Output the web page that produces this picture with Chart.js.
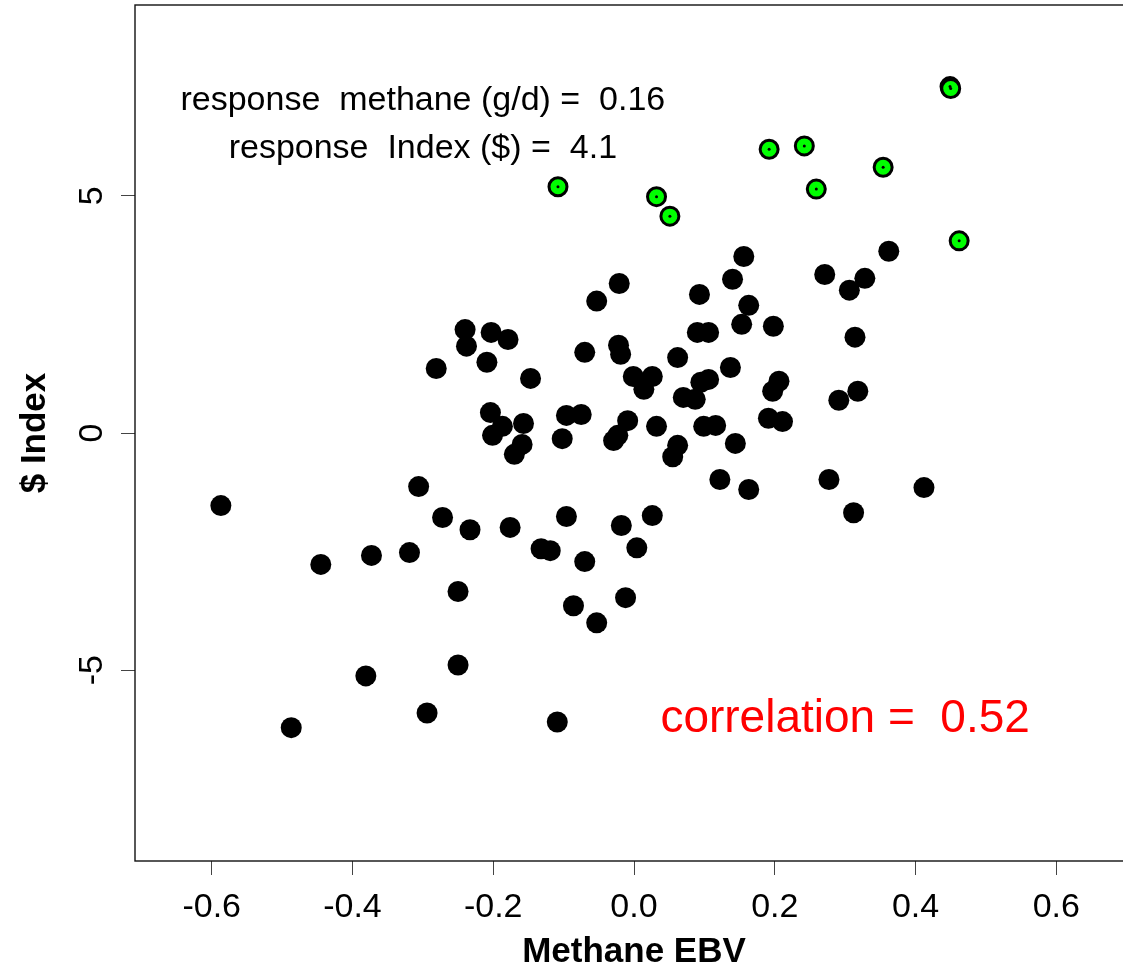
<!DOCTYPE html>
<html>
<head>
<meta charset="utf-8">
<script src="https://cdn.jsdelivr.net/npm/chart.js@4.4.1/dist/chart.umd.min.js"></script>
<style>
  html, body { margin: 0; padding: 0; background: #fff; overflow: hidden; }
  /* the plot box runs a little past the right edge of the picture, and Chart.js
     keeps ~12px free round the points, so the canvas is a bit bigger and pulled up */
  #wrap { width: 1145px; height: 980px; margin-top: -7px; }
</style>
</head>
<body>
<div id="wrap"><canvas id="scatter" width="1145" height="980"></canvas></div>
<script>
// Methane EBV vs $ Index, bulls
const methaneEBV = [
  -0.587, -0.487, -0.445, -0.381, -0.373, -0.319, -0.306, -0.294, -0.281, -0.272,
  -0.250, -0.250, -0.240, -0.238, -0.233, -0.209, -0.203, -0.204, -0.201, -0.187,
  -0.179, -0.176, -0.170, -0.159, -0.157, -0.147, -0.132, -0.119, -0.109, -0.102,
  -0.096, -0.096, -0.086, -0.075, -0.070, -0.070, -0.053, -0.053, -0.029, -0.023,
  -0.022, -0.021, -0.019, -0.018, -0.012, -0.009, -0.001, 0.004, 0.014, 0.026,
  0.026, 0.032, 0.055, 0.062, 0.062, 0.070, 0.087, 0.090, 0.093, 0.095,
  0.099, 0.106, 0.106, 0.116, 0.122, 0.137, 0.140, 0.144, 0.153, 0.156,
  0.163, 0.163, 0.191, 0.197, 0.198, 0.206, 0.211, 0.271, 0.277, 0.291,
  0.306, 0.312, 0.314, 0.318, 0.328, 0.362, 0.412
];
const indexValue = [
  -1.53, -6.21, -2.77, -5.12, -2.58, -2.52, -1.13, -5.90, 1.36, -1.78,
  -3.34, -4.89, 2.18, 1.83, -2.04, 1.49, 2.12, 0.43, -0.05, 0.14,
  1.97, -1.99, -0.45, -0.24, 0.20, 1.15, -2.44, -2.48, -6.09, -0.12,
  0.37, -1.76, -3.64, 0.39, 1.70, -2.71, 2.78, -4.00, -0.16, -0.05,
  1.85, 3.15, 1.66, -1.95, -3.47, 0.26, 1.19, -2.42, 0.92, 1.19,
  -1.74, 0.14, -0.50, -0.26, 1.59, 0.75, 0.71, 2.12, 2.92, 1.07,
  0.14, 2.12, 1.13, 0.16, -0.98, 1.38, 3.24, -0.22, 2.29, 3.72,
  2.69, -1.19, 0.31, 0.88, 2.25, 1.09, 0.24, 3.34, -0.98, 0.69,
  3.01, -1.68, 2.02, 0.88, 3.26, 3.83, -1.15
];
// top bulls on the index (green)
const topMethane = [-0.108, 0.032, 0.051, 0.192, 0.242, 0.259, 0.354, 0.449, 0.450, 0.462];
const topIndex = [5.19, 4.98, 4.57, 5.98, 6.05, 5.14, 5.60, 7.30, 7.26, 4.05];

const xTicks = [-0.6, -0.4, -0.2, 0, 0.2, 0.4, 0.6];
const xTickLabels = ['-0.6', '-0.4', '-0.2', '0.0', '0.2', '0.4', '0.6'];
const yTicks = [-5, 0, 5];
const yTickLabels = ['-5', '0', '5'];

const notes = ['response  methane (g/d) =  0.16', 'response  Index ($) =  4.1'];
const corrNote = 'correlation =  0.52';

const FONT = '"Liberation Sans", Arial, sans-serif';

const toPoints = (xs, ys) => xs.map((v, i) => ({ x: v, y: ys[i] }));

const overlay = {
  id: 'overlay',
  afterDraw(chart) {
    const { ctx, chartArea: a, scales: { x, y } } = chart;
    ctx.save();
    ctx.strokeStyle = '#111';
    ctx.lineWidth = 1.4;
    ctx.strokeRect(a.left, a.top, a.right - a.left, a.bottom - a.top);

    ctx.textAlign = 'center';
    ctx.textBaseline = 'middle';
    ctx.fillStyle = '#000';
    ctx.font = '34px ' + FONT;
    ctx.fillText(notes[0], x.getPixelForValue(-0.3), y.getPixelForValue(7));
    ctx.fillText(notes[1], x.getPixelForValue(-0.3), y.getPixelForValue(6));

    ctx.fillStyle = '#ff0000';
    ctx.font = '46px ' + FONT;
    ctx.fillText(corrNote, x.getPixelForValue(0.3), y.getPixelForValue(-6) + 2);
    ctx.restore();
  }
};

const axisGrid = {
  drawOnChartArea: false,
  drawTicks: true,
  tickLength: 14,
  tickColor: '#444',
  tickWidth: 1
};

new Chart(document.getElementById('scatter'), {
  type: 'scatter',
  data: {
    datasets: [
      {
        // little black dot in the middle of the green ones
        data: toPoints(topMethane, topIndex),
        pointRadius: 1.5,
        pointBackgroundColor: '#000',
        pointBorderWidth: 0
      },
      {
        data: toPoints(topMethane, topIndex),
        pointRadius: 9,
        pointBackgroundColor: '#00ff00',
        pointBorderColor: '#000',
        pointBorderWidth: 3
      },
      {
        data: toPoints(methaneEBV, indexValue),
        pointRadius: 10.5,
        pointBackgroundColor: '#000',
        pointBorderWidth: 0
      }
    ]
  },
  options: {
    responsive: false,
    animation: false,
    layout: { padding: { top: 6, right: 8, bottom: 0, left: 0 } },
    plugins: { legend: { display: false }, tooltip: { enabled: false } },
    scales: {
      x: {
        type: 'linear',
        min: -0.709,
        max: 0.709,
        afterBuildTicks: s => { s.ticks = xTicks.map(v => ({ value: v })); },
        afterFit: s => { s.height = 112; s.paddingLeft = 0; s.paddingRight = 0; },
        grid: axisGrid,
        border: { display: false },
        ticks: {
          autoSkip: false,
          maxRotation: 0,
          minRotation: 0,
          padding: 12,
          color: '#000',
          font: { family: FONT, size: 34 },
          callback: (v, i) => xTickLabels[i]
        },
        title: {
          display: true,
          text: 'Methane EBV',
          color: '#000',
          font: { family: FONT, size: 35, weight: 'bold' },
          padding: { top: 0, bottom: 0 }
        }
      },
      y: {
        type: 'linear',
        min: -9.02,
        max: 9.02,
        afterBuildTicks: s => { s.ticks = yTicks.map(v => ({ value: v })); },
        afterFit: s => { s.width = 135; s.paddingTop = 0; s.paddingBottom = 0; },
        grid: axisGrid,
        border: { display: false },
        ticks: {
          autoSkip: false,
          crossAlign: 'center',
          minRotation: 90,
          maxRotation: 90,
          padding: 13,
          color: '#000',
          font: { family: FONT, size: 34 },
          callback: (v, i) => yTickLabels[i]
        },
        title: {
          display: true,
          text: '$ Index',
          color: '#000',
          font: { family: FONT, size: 35, weight: 'bold' },
          padding: { top: 14, bottom: 0 }
        }
      }
    }
  },
  plugins: [overlay]
});
</script>
</body>
</html>
